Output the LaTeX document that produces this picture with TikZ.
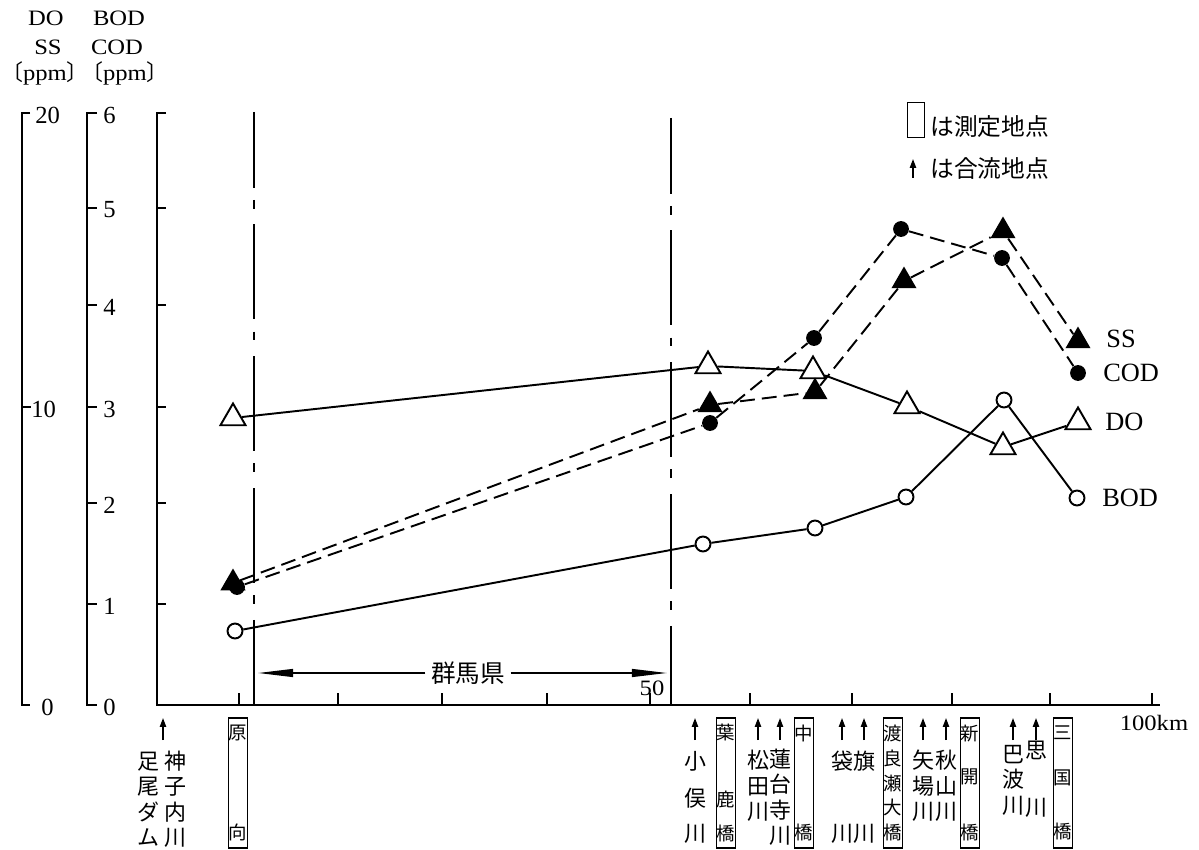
\documentclass[tikz,border=0pt]{standalone}
\usepackage{fontspec}
\setmainfont{Liberation Serif}
\newfontfamily\widefont[FakeStretch=1.12]{Liberation Serif}
\newfontfamily\jpfont{Noto Sans CJK JP}
\usetikzlibrary{shapes.geometric,arrows.meta}

\begin{document}
\begin{tikzpicture}[x=0.2mm,y=0.2mm,
  every node/.style={inner sep=0pt},
  axisline/.style={line width=1.3pt},
  boundary/.style={line width=1.3pt,dash pattern=on 54pt off 7pt on 5pt off 9pt,dash phase=11pt},
  solidline/.style={line width=1.1pt},
  dashline/.style={line width=1.1pt,dash pattern=on 8.5pt off 4pt},
  opentri/.style={draw,line width=1.1pt,fill=white,regular polygon,regular polygon sides=3,minimum size=16.5pt},
  filltri/.style={fill=black,regular polygon,regular polygon sides=3,minimum size=16.5pt},
  opendot/.style={draw,line width=1.1pt,fill=white,circle,minimum size=8.5pt},
  filldot/.style={fill=black,circle,minimum size=9pt},
  river/.style={font=\jpfont\fontsize{12.5}{14.5}\selectfont,align=center},
  station/.style={draw,line width=0.9pt,font=\jpfont\fontsize{10.5}{14.2}\selectfont,align=center,minimum width=11pt,minimum height=74pt},
  trib/.style={line width=0.9pt,-{Triangle[length=5pt,width=3.5pt]}},
  pref/.style={line width=0.9pt,-{Triangle[length=20pt,width=4.5pt]}},
  hdr/.style={font=\widefont\fontsize{12.5}{14}\selectfont},
  ticklabel/.style={anchor=west,font=\fontsize{14}{16}\selectfont},
  serieslabel/.style={anchor=west,font=\fontsize{15}{17}\selectfont}]
\useasboundingbox (0,0) rectangle (1199,-850);

\node[hdr] (hdo) at (46,-18) {DO};
\node[hdr] (hss) at (48,-47) {SS};
\node[hdr] (hppma) at (45,-73) {{\jpfont 〔}ppm{\jpfont 〕}};
\node[hdr] (hbod) at (119,-18) {BOD};
\node[hdr] (hcod) at (117,-47) {COD};
\node[hdr] (hppmb) at (125,-73) {{\jpfont 〔}ppm{\jpfont 〕}};

\draw[axisline] (30,-113) -- (22,-113) -- (22,-705) -- (30,-705);
\draw[axisline] (22,-407) -- (31,-407);
\node[ticklabel] (do20) at (35,-115) {20};
\node[ticklabel] (do10) at (31,-409) {10};
\node[ticklabel] (do0) at (41,-707) {0};

\draw[axisline] (97,-113) -- (87,-113) -- (87,-705) -- (97,-705);
\foreach \y in {208,305,407,503,604}
  \draw[axisline] (87,-\y) -- (97,-\y);
\foreach \v/\y in {6/113,5/208,4/305,3/407,2/503,1/604,0/705}
  \node[ticklabel] (bod\v) at (103,-\y-2) {\v};

\draw[axisline] (166,-113) -- (157,-113) -- (157,-705) -- (1160,-705);
\foreach \y in {208,305,407,503,604}
  \draw[axisline] (157,-\y) -- (166,-\y);
\foreach \x in {239,338,442,547,650,750,852,952,1050,1152}
  \draw[axisline] (\x,-705) -- (\x,-693);
\node[hdr] (km50) at (652,-688) {50};
\node[hdr] (km100) at (1154,-723) {100km};

\draw[boundary] (254,-112) -- (254,-705);
\draw[boundary] (671,-118) -- (671,-705);

\node[fill=white,inner xsep=3pt,font=\jpfont\fontsize{14}{16}\selectfont] (gunma) at (468,-673) {群馬県};
\coordinate (gunmaW) at (258,-673);
\coordinate (gunmaE) at (667,-673);
\draw[pref] (gunma.west) -- (gunmaW);
\draw[pref] (gunma.east) -- (gunmaE);

\node[draw,line width=0.9pt,minimum width=9.6pt,minimum height=19.8pt] (keybox) at (916,-120) {};
\node[anchor=west,font=\jpfont\fontsize{13.5}{15}\selectfont] (keymeas) at (930,-127) {は測定地点};
\node[anchor=west,font=\jpfont\fontsize{13.5}{15}\selectfont] (keyconf) at (930,-168) {は合流地点};
\draw[trib] (913,-178) -- (913,-159);

\node[opentri] (do1) at (233,-418) {};
\node[opentri] (do2) at (708,-366) {};
\node[opentri] (do3) at (813,-371) {};
\node[opentri] (do4) at (907,-406) {};
\node[opentri] (do5) at (1003,-447) {};
\node[opentri] (do6) at (1078,-422) {};
\draw[solidline] (do1) -- (do2) -- (do3) -- (do4) -- (do5) -- (do6);

\node[opendot] (bod1) at (235,-631) {};
\node[opendot] (bod2) at (703,-544) {};
\node[opendot] (bod3) at (815,-528) {};
\node[opendot] (bod4) at (906,-497) {};
\node[opendot] (bod5) at (1004,-400) {};
\node[opendot] (bod6) at (1077,-498) {};
\draw[solidline] (bod1) -- (bod2) -- (bod3) -- (bod4) -- (bod5) -- (bod6);

\node[filltri] (ss1) at (233,-583) {};
\node[filltri] (ss2) at (710,-405) {};
\node[filltri] (ss3) at (815,-392) {};
\node[filltri] (ss4) at (904,-281) {};
\node[filltri] (ss5) at (1003,-231) {};
\node[filltri] (ss6) at (1078,-341) {};
\draw[dashline] (ss1) -- (ss2) -- (ss3) -- (ss4) -- (ss5) -- (ss6);

\node[filldot] (cod1) at (237,-587) {};
\node[filldot] (cod2) at (710,-423) {};
\node[filldot] (cod3) at (814,-338) {};
\node[filldot] (cod4) at (901,-229) {};
\node[filldot] (cod5) at (1002,-258) {};
\node[filldot] (cod6) at (1078,-373) {};
\draw[dashline] (cod1) -- (cod2) -- (cod3) -- (cod4) -- (cod5) -- (cod6);

\node[serieslabel] (lss) at (1106,-339) {SS};
\node[serieslabel] (lcod) at (1103,-373) {COD};
\node[serieslabel] (ldo) at (1105,-422) {DO};
\node[serieslabel] (lbod) at (1102,-498) {BOD};

\node[river] (ashio) at (148,-799) {足\\尾\\ダ\\ム};
\node[river] (kamiko) at (175,-799) {神\\子\\内\\川};
\draw[trib] (163,-740) -- (163,-718);
\node[station] (haramuki) at (238,-783) {原\\[42.5pt]向};
\node[river] (komata) at (695,-797) {小\\[6.8pt]俣\\[5.1pt]川};
\node[station] (hajika) at (726,-783) {葉\\[23.8pt]鹿\\[5.6pt]橋};
\node[river] (matsuda) at (758,-786) {松\\田\\川};
\node[river] (hasudaiji) at (780,-797) {蓮\\台\\寺\\川};
\node[station] (naka) at (804,-783) {中\\[42.5pt]橋};
\node[river] (fukuro) at (842,-797) {袋\\[26.7pt]川};
\node[river] (hata) at (864,-797) {旗\\[26.7pt]川};
\node[station] (watarase) at (893,-783) {渡\\良\\瀬\\大\\橋};
\node[river] (yaba) at (923,-786) {矢\\場\\川};
\node[river] (akiyama) at (946,-786) {秋\\山\\川};
\node[station] (shinkai) at (970,-783) {新\\[10.2pt]開\\[18.1pt]橋};
\node[river] (uzuma) at (1013,-780) {巴\\波\\川};
\node[river] (omoi) at (1036,-779) {思\\[18.2pt]川};
\node[station] (mikuni) at (1063,-783) {三\\[11.3pt]国\\[17pt]橋};
\draw[trib] (komata |- 0,-740) -- (komata |- 0,-718);
\draw[trib] (matsuda |- 0,-740) -- (matsuda |- 0,-718);
\draw[trib] (hasudaiji |- 0,-740) -- (hasudaiji |- 0,-718);
\draw[trib] (fukuro |- 0,-740) -- (fukuro |- 0,-718);
\draw[trib] (hata |- 0,-740) -- (hata |- 0,-718);
\draw[trib] (yaba |- 0,-740) -- (yaba |- 0,-718);
\draw[trib] (akiyama |- 0,-740) -- (akiyama |- 0,-718);
\draw[trib] (uzuma |- 0,-740) -- (uzuma |- 0,-718);
\draw[trib] (omoi |- 0,-740) -- (omoi |- 0,-718);
\end{tikzpicture}
\end{document}
